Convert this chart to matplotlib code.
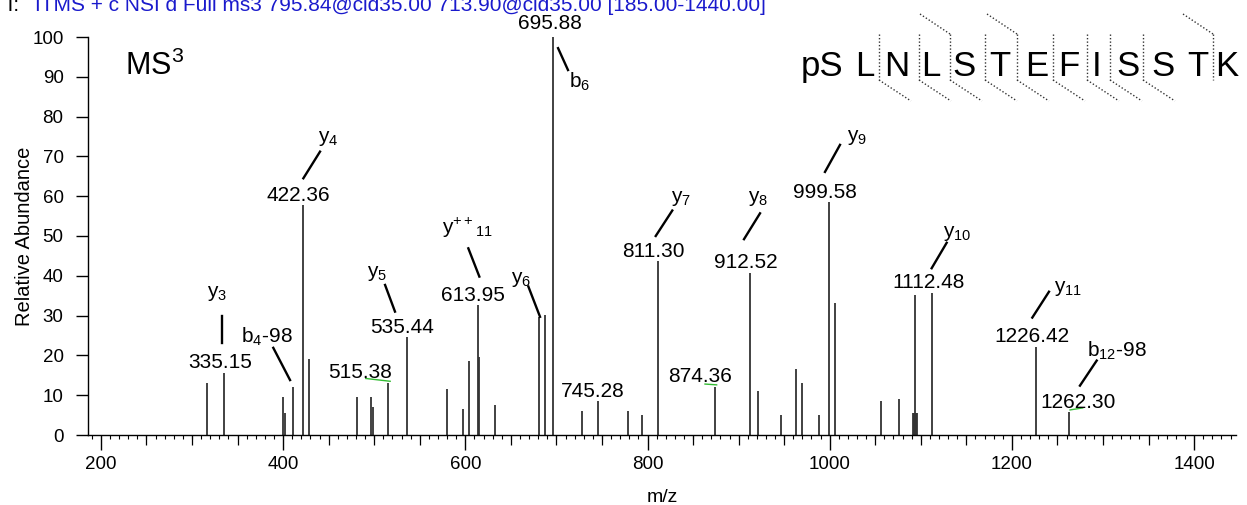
import numpy as np
import matplotlib.pyplot as plt
from matplotlib.lines import Line2D

plt.rcParams['font.family'] = ['Liberation Sans', 'DejaVu Sans']
plt.rcParams['mathtext.fontset'] = 'custom'
plt.rcParams['mathtext.rm'] = 'Liberation Sans'
plt.rcParams['mathtext.it'] = 'Liberation Sans'

# spectrum peaks (m/z, relative abundance)
mz = [316.0, 335.15, 400.0, 402.5, 411.0, 422.36, 428.5, 481.0, 497.0, 499.0,
      515.38, 535.44, 579.5, 597.0, 604.5, 613.95, 615.5, 632.5, 681.0, 687.5,
      695.88, 728.0, 745.28, 778.5, 793.5, 811.30, 874.36, 912.52, 921.0, 946.5,
      963.0, 970.0, 988.0, 999.58, 1005.5, 1056.0, 1076.0, 1091.0, 1092.3, 1093.2,
      1095.0, 1096.3, 1112.48, 1226.42, 1262.30]
intensity = [13.0, 15.5, 9.6, 5.6, 12.1, 57.8, 19.1, 9.6, 9.6, 7.1,
             13.1, 24.5, 11.6, 6.5, 18.6, 32.7, 19.6, 7.5, 29.7, 30.2,
             100.0, 6.0, 8.5, 6.0, 5.0, 43.7, 12.1, 40.8, 11.1, 5.0,
             16.6, 13.1, 5.0, 58.5, 33.1, 8.6, 9.0, 5.5, 5.5, 35.2,
             5.5, 5.5, 35.6, 22.0, 5.9]

# m/z labels on peaks
mass_text = ['695.88', '422.36', '335.15', '515.38', '535.44', '613.95', '745.28',
             '811.30', '912.52', '874.36', '999.58', '1112.48', '1226.42', '1262.30']
mass_x = [692.4, 416.7, 330.7, 484.4, 531.1, 607.9, 740.4,
          806.4, 907.8, 857.4, 994.3, 1109.0, 1221.5, 1272.2]
mass_y = [102.0, 58.8, 16.8, 14.3, 25.6, 33.7, 9.6,
          44.8, 41.9, 13.2, 59.5, 36.9, 23.3, 6.7]

# fragment ion labels and their leader lines
ion_text = [r'$\mathregular{y_3}$', r'$\mathregular{b_4}$-98', r'$\mathregular{y_4}$',
            r'$\mathregular{y_5}$', r'$\mathregular{y^{++}{}_{11}}$', r'$\mathregular{y_6}$',
            r'$\mathregular{b_6}$', r'$\mathregular{y_7}$', r'$\mathregular{y_8}$',
            r'$\mathregular{y_9}$', r'$\mathregular{y_{10}}$', r'$\mathregular{y_{11}}$',
            r'$\mathregular{b_{12}}$-98']
ion_x = [328.0, 382.3, 449.3, 503.6, 602.4, 661.7, 725.9, 837.3, 921.3,
         1029.9, 1139.8, 1262.1, 1315.4]
ion_y = [34.7, 23.2, 73.6, 39.6, 50.5, 38.2, 87.2, 58.5, 58.5,
         73.9, 49.7, 35.9, 19.7]
lead_x1 = [332.6, 389.2, 440.5, 511.9, 603.3, 669.2, 701.8, 827.2, 923.5, 1011.3, 1128.4, 1240.7, 1293.1]
lead_y1 = [30.0, 21.9, 71.2, 37.7, 46.9, 37.3, 97.2, 56.4, 55.7, 72.9, 48.3, 36.0, 18.7]
lead_x2 = [332.6, 407.6, 422.2, 522.8, 615.4, 682.0, 712.7, 809.0, 905.9, 994.8, 1111.9, 1222.4, 1274.7]
lead_y2 = [23.2, 13.8, 64.5, 31.0, 39.8, 29.7, 91.7, 50.0, 49.2, 66.1, 41.9, 29.5, 12.4]

# small green marks under some labels
green_x1 = [490.7, 863.1, 1263.8]
green_y1 = [14.2, 12.8, 6.3]
green_x2 = [517.5, 875.9, 1277.7]
green_y2 = [13.5, 12.6, 6.8]

# peptide sequence
residues = ['pS', 'L', 'N', 'L', 'S', 'T', 'E', 'F', 'I', 'S', 'S', 'T', 'K']
res_px = [822, 865, 897, 931, 964, 1000, 1037, 1069, 1097, 1128, 1163, 1198, 1227]
y_cut_px = [879, 919, 950, 985, 1017, 1053, 1087, 1110, 1143]
b_cut_px = [950, 1017, 1213]

W, H = 1247, 505
fig = plt.figure(figsize=(W / 100, H / 100), dpi=100)
ax = fig.add_axes([88 / W, 1 - 435 / H, 1148 / W, 398 / H])


def px(x, y):
    return x / W, 1 - y / H


ax.vlines(mz, 0, intensity, color='#333333', lw=1.3)
ax.set_xlim(185.8, 1446.0)
ax.set_ylim(0, 100)

for s in ['top', 'right']:
    ax.spines[s].set_visible(False)
ax.spines['left'].set_linewidth(1.0)
ax.spines['bottom'].set_linewidth(1.0)

ax.set_yticks(range(0, 101, 10))
ax.set_xticks(range(200, 1401, 200))
ax.set_xticks(range(190, 1441, 10), minor=True)
ax.tick_params(axis='y', length=8.6, width=1, pad=9, labelsize=13.5)
ax.tick_params(axis='x', which='major', length=10.8, width=1, pad=4, labelsize=13.5)
ax.tick_params(axis='x', which='minor', length=3, width=0.8)

sec = ax.secondary_xaxis('bottom')
sec.set_xticks([v for v in range(250, 1441, 50) if v % 200 != 0])
sec.tick_params(length=7.2, width=0.9, labelbottom=False)
sec.spines['bottom'].set_visible(False)

ax.set_xlabel('m/z', fontsize=14, labelpad=12)
ax.set_ylabel('Relative Abundance', fontsize=14.5, labelpad=-1)

for t, x, y in zip(mass_text, mass_x, mass_y):
    ax.text(x, y, t, ha='center', va='baseline', fontsize=15, clip_on=False)
for t, x, y in zip(ion_text, ion_x, ion_y):
    ax.text(x, y, t, ha='center', va='baseline', fontsize=15, clip_on=False)
for a, b, c, d in zip(lead_x1, lead_y1, lead_x2, lead_y2):
    ax.plot([a, c], [b, d], color='black', lw=1.7, clip_on=False)
for a, b, c, d in zip(green_x1, green_y1, green_x2, green_y2):
    ax.plot([a, c], [b, d], color='#33bb33', lw=1.0, clip_on=False)

ax.text(226.5, 90.5, r'$\mathregular{MS^3}$', fontsize=22, va='baseline', ha='left')

# header line, partly clipped at the top edge
fig.text(4 / W, 1 - 11 / H, 'T:', fontsize=15, color='black', va='baseline')
fig.text(35 / W, 1 - 11 / H,
         'ITMS + c NSI d Full ms3 795.84@cid35.00 713.90@cid35.00 [185.00-1440.00]',
         fontsize=15, color='#1a1acc', va='baseline')

# peptide sequence with fragment markers
for r, x in zip(residues, res_px):
    fig.text(*px(x, 76), r, fontsize=25, ha='center', va='baseline')
dot = dict(color='#333333', lw=1.0, linestyle=(0, (1, 1.5)))
for x in sorted(set(y_cut_px + b_cut_px)):
    fig.add_artist(Line2D(*zip(px(x, 34), px(x, 80)), **dot))
for x in y_cut_px:
    fig.add_artist(Line2D(*zip(px(x, 80), px(x + 32, 101)), **dot))
for x in b_cut_px:
    fig.add_artist(Line2D(*zip(px(x - 30, 14), px(x, 34)), **dot))

fig.savefig('out.png', dpi=100)
